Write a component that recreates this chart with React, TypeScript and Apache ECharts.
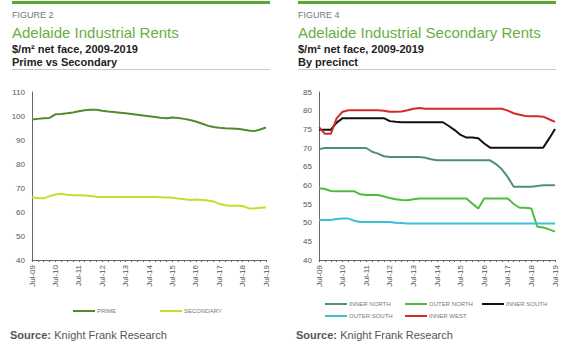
import React, { useEffect, useRef } from "react";
import * as echarts from "echarts";

const quarters: string[] = [];
(() => {
  const m = ["Jul", "Oct", "Jan", "Apr"];
  for (let i = 0; i <= 40; i++) {
    const yr = 9 + Math.floor((i + 2) / 4);
    quarters.push(`${m[i % 4]}-${String(yr).padStart(2, "0")}`);
  }
})();

const primeValues = [
  98.5, 98.8, 99.1, 99.2, 100.7, 100.8, 101.1, 101.5, 102.0, 102.4, 102.6, 102.6,
  102.2, 101.9, 101.7, 101.4, 101.1, 100.8, 100.5, 100.2, 99.9, 99.6, 99.3, 99.1,
  99.4, 99.2, 98.8, 98.3, 97.7, 96.9, 96.0, 95.4, 95.1, 94.9, 94.8, 94.7, 94.4,
  94.0, 93.7, 94.4, 95.2,
];
const secondaryValues = [
  66.1, 65.8, 65.7, 66.6, 67.3, 67.6, 67.2, 67.0, 67.0, 66.9, 66.7, 66.4, 66.3,
  66.3, 66.3, 66.3, 66.3, 66.3, 66.3, 66.3, 66.3, 66.2, 66.1, 66.0, 65.9, 65.6,
  65.3, 65.0, 65.2, 65.0, 64.8, 64.4, 63.4, 62.8, 62.6, 62.6, 62.5, 61.6, 61.5,
  61.8, 61.9,
];
const innerNorth = [
  69.7, 70, 70, 70, 70, 70, 70, 70, 70, 69.0, 68.5, 67.8, 67.6, 67.6, 67.6, 67.6,
  67.6, 67.6, 67.4, 67.0, 66.7, 66.7, 66.7, 66.7, 66.7, 66.7, 66.7, 66.7, 66.7,
  66.7, 65.7, 64.3, 62.2, 59.6, 59.6, 59.6, 59.6, 59.8, 60.0, 60.0, 60.0,
];
const outerNorth = [
  59.2, 59.0, 58.5, 58.4, 58.4, 58.4, 58.4, 57.6, 57.4, 57.4, 57.4, 57.0, 56.6,
  56.3, 56.1, 56.0, 56.3, 56.5, 56.5, 56.5, 56.5, 56.5, 56.5, 56.5, 56.5, 56.5,
  55.1, 53.8, 56.5, 56.5, 56.5, 56.5, 56.5, 55.0, 54.0, 54.0, 53.8, 48.9, 48.7,
  48.2, 47.6,
];
const innerSouth = [
  74.9, 74.9, 74.9, 76.8, 78.0, 78.0, 78.0, 78.0, 78.0, 78.0, 78.0, 78.0, 77.2,
  77.0, 76.9, 76.9, 76.9, 76.9, 76.9, 76.9, 76.9, 76.9, 75.9, 74.8, 73.5, 72.8,
  72.8, 72.6, 71.2, 70.1, 70.1, 70.1, 70.1, 70.1, 70.1, 70.1, 70.1, 70.1, 70.1,
  72.5, 75.1,
];
const outerSouth = [
  50.7, 50.7, 50.7, 51.0, 51.1, 51.1, 50.5, 50.2, 50.2, 50.2, 50.2, 50.2, 50.2,
  50.0, 49.9, 49.8, 49.8, 49.8, 49.8, 49.8, 49.8, 49.8, 49.8, 49.8, 49.8, 49.8,
  49.8, 49.8, 49.8, 49.8, 49.8, 49.8, 49.8, 49.8, 49.8, 49.8, 49.8, 49.8, 49.8,
  49.8, 49.8,
];
const innerWest = [
  75.6, 73.8, 73.8, 78.0, 79.7, 80.1, 80.1, 80.1, 80.1, 80.1, 80.1, 80.0, 79.7,
  79.7, 79.8, 80.1, 80.5, 80.7, 80.5, 80.5, 80.5, 80.5, 80.5, 80.5, 80.5, 80.5,
  80.5, 80.5, 80.5, 80.5, 80.5, 80.5, 80.0, 79.3, 78.9, 78.6, 78.5, 78.5, 78.4,
  77.7, 77.0,
];

const leftTicks = [40, 50, 60, 70, 80, 90, 100, 110];
const rightTicks = [40, 45, 50, 55, 60, 65, 70, 75, 80, 85];

const FONT = "Liberation Sans, Arial, sans-serif";
const GREEN = "#6aae3f";

function header(x: number, fig: string, title: string, sub1: string, sub2: string) {
  return [
    { type: "rect", left: x, top: 1, shape: { width: 258, height: 3 }, style: { fill: "#5aa833" } },
    { type: "text", left: x, top: 10, style: { text: fig, font: `9px ${FONT}`, fill: "#777" } },
    { type: "text", left: x, top: 25, style: { text: title, font: `15px ${FONT}`, fill: GREEN } },
    { type: "text", left: x, top: 43, style: { text: sub1, font: `bold 11px ${FONT}`, fill: "#222" } },
    { type: "text", left: x, top: 56, style: { text: sub2, font: `bold 11px ${FONT}`, fill: "#222" } },
    { type: "rect", left: x, top: 69, shape: { width: 258, height: 1 }, style: { fill: "#c8c8c8" } },
    {
      type: "text",
      left: x - 2,
      top: 329,
      style: {
        rich: {
          a: { font: `bold 11px ${FONT}`, fill: "#555" },
          b: { font: `11px ${FONT}`, fill: "#555" },
        },
        text: "{a|Source:} {b|Knight Frank Research}",
      },
    },
  ];
}

function xAxis(gridIndex: number) {
  return {
    type: "category",
    gridIndex,
    data: quarters,
    boundaryGap: false,
    axisLine: { lineStyle: { color: "#666", width: 1 } },
    axisTick: { show: true, interval: 0, length: 2, lineStyle: { color: "#666" } },
    axisLabel: {
      interval: 3,
      rotate: 90,
      fontSize: 8,
      color: "#555",
      fontFamily: FONT,
      margin: 5,
    },
    splitLine: { show: false },
  };
}

function yAxis(gridIndex: number, ticks: number[]) {
  return {
    type: "value",
    gridIndex,
    min: ticks[0],
    max: ticks[ticks.length - 1],
    interval: ticks[1] - ticks[0],
    axisLine: { show: true, lineStyle: { color: "#666", width: 1 } },
    axisTick: { show: false },
    axisLabel: { fontSize: 8, color: "#555", fontFamily: FONT, margin: 7 },
    splitLine: { show: false },
  };
}

function line(name: string, data: number[], color: string, idx: number) {
  return {
    name,
    type: "line",
    xAxisIndex: idx,
    yAxisIndex: idx,
    data,
    symbol: "none",
    lineStyle: { color, width: 2 },
    itemStyle: { color },
  };
}

function legend(name: string, left: number, top: number) {
  return {
    data: [name],
    left,
    top,
    padding: 0,
    icon: "rect",
    itemWidth: 22,
    itemHeight: 2,
    itemGap: 0,
    selectedMode: false,
    textStyle: { fontSize: 6, color: "#777", fontFamily: FONT, padding: [0, 0, 0, -3] },
  };
}

export default function App() {
  const ref = useRef<HTMLDivElement>(null);
  useEffect(() => {
    if (!ref.current) return;
    const chart = echarts.init(ref.current, undefined, { renderer: "svg" });
    chart.setOption({
      animation: false,
      backgroundColor: "#fff",
      textStyle: { fontFamily: FONT },
      grid: [
        { left: 32, right: 314, top: 92, bottom: 92 },
        { left: 319, right: 25, top: 92, bottom: 92 },
      ],
      xAxis: [xAxis(0), xAxis(1)],
      yAxis: [yAxis(0, leftTicks), yAxis(1, rightTicks)],
      legend: [
        legend("PRIME", 73, 308),
        legend("SECONDARY", 160, 308),
        legend("INNER NORTH", 325, 301),
        legend("OUTER NORTH", 405, 301),
        legend("INNER SOUTH", 482, 301),
        legend("OUTER SOUTH", 325, 313),
        legend("INNER WEST", 405, 313),
      ],
      series: [
        line("PRIME", primeValues, "#4e8c2e", 0),
        line("SECONDARY", secondaryValues, "#c3df2c", 0),
        line("INNER NORTH", innerNorth, "#4f8f7f", 1),
        line("OUTER NORTH", outerNorth, "#4cbf3a", 1),
        line("INNER SOUTH", innerSouth, "#111111", 1),
        line("OUTER SOUTH", outerSouth, "#3cbfd9", 1),
        line("INNER WEST", innerWest, "#d42a2a", 1),
      ],
      graphic: [
        ...header(12, "FIGURE 2", "Adelaide Industrial Rents", "$/m² net face, 2009-2019", "Prime vs Secondary"),
        ...header(298, "FIGURE 4", "Adelaide Industrial Secondary Rents", "$/m² net face, 2009-2019", "By precinct"),
      ],
    });
    return () => chart.dispose();
  }, []);
  return (
    <div
      ref={ref}
      style={{ position: "absolute", left: 0, top: 0, width: 580, height: 352 }}
    />
  );
}
